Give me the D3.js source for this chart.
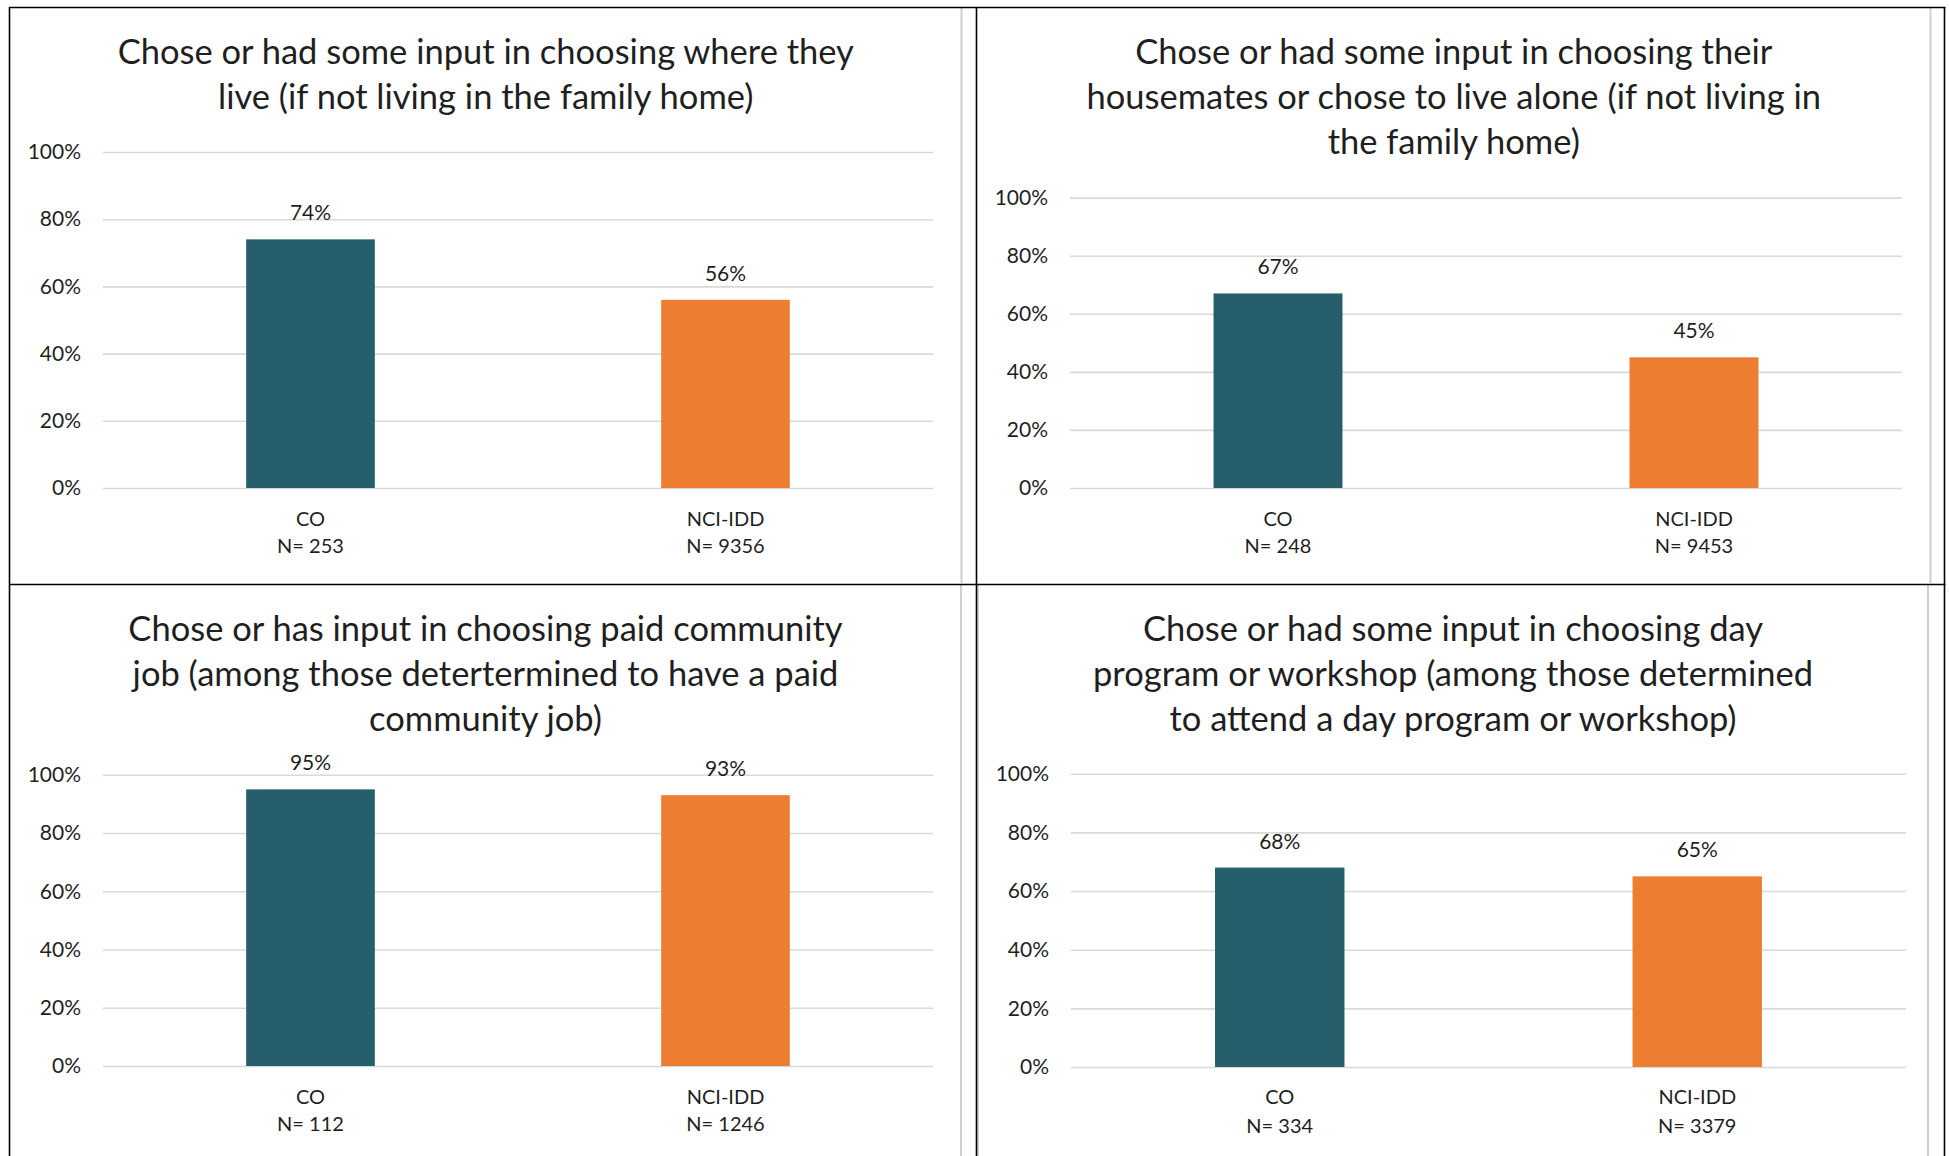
<!DOCTYPE html>
<html>
<head>
<meta charset="utf-8">
<script src="https://cdn.jsdelivr.net/npm/d3@7"></script>
<style>
  html, body { margin: 0; padding: 0; background: #ffffff; }
  svg { display: block; }
  text { font-family: Lato, "Open Sans", "Liberation Sans", sans-serif; }
</style>
</head>
<body>
<svg id="chart" width="1949" height="1156"></svg>
<script>
// ---------------- DATA ----------------
const titles = [
  ["Chose or had some input in choosing where they", "live (if not living in the family home)"],
  ["Chose or had some input in choosing their", "housemates or chose to live alone (if not living in", "the family home)"],
  ["Chose or has input in choosing paid community", "job (among those detertermined to have a paid", "community job)"],
  ["Chose or had some input in choosing day", "program or workshop (among those determined", "to attend a day program or workshop)"]
];
const categories = ["CO", "NCI-IDD"];
const sampleSizes = [
  ["N= 253", "N= 9356"],
  ["N= 248", "N= 9453"],
  ["N= 112", "N= 1246"],
  ["N= 334", "N= 3379"]
];
const values = [
  [74, 56],
  [67, 45],
  [95, 93],
  [68, 65]
];
const tickValues = [0, 20, 40, 60, 80, 100];
const barColors = ["#265E6B", "#ED7D31"];

// ---------------- LAYOUT ----------------
const layout = [
  {left: 10,  right: 961.5,  x0: 103,  x1: 933,  yTop: 152,   yBase: 488,  titleY: 64,  catY: 526,  nY: 553},
  {left: 977, right: 1930.5, x0: 1070, x1: 1902, yTop: 197.6, yBase: 488,  titleY: 64,  catY: 526,  nY: 553},
  {left: 10,  right: 961,    x0: 103,  x1: 933,  yTop: 774.8, yBase: 1066, titleY: 641, catY: 1104, nY: 1131},
  {left: 978, right: 1928,   x0: 1071, x1: 1906, yTop: 773.7, yBase: 1067, titleY: 641, catY: 1104, nY: 1133}
];

const svg = d3.select("#chart");
const textColor = "#1f1f1f";

layout.forEach((L, i) => {
  const g = svg.append("g");

  // chart area right border (light gray)
  g.append("line")
    .attr("x1", L.right).attr("x2", L.right)
    .attr("y1", i < 2 ? 8 : 585).attr("y2", i < 2 ? 583 : 1156)
    .attr("stroke", "#d0d0d0").attr("stroke-width", 2);
  if (i === 3) {
    g.append("line")
      .attr("x1", L.left).attr("x2", L.left)
      .attr("y1", 585).attr("y2", 1156)
      .attr("stroke", "#d0d0d0").attr("stroke-width", 2);
  }

  // title
  const cx = (L.left + L.right) / 2;
  const t = g.append("text")
    .attr("text-anchor", "middle")
    .attr("fill", textColor)
    .style("font-size", "34.5px");
  titles[i].forEach((line, k) => {
    t.append("tspan").attr("x", cx).attr("y", L.titleY + k * 45).text(line);
  });

  const x = d3.scaleBand().domain(categories).range([L.x0, L.x1])
    .paddingInner(0.69).paddingOuter(0.345);
  const y = d3.scaleLinear().domain([0, 100]).range([L.yBase, L.yTop]);

  // y axis with gridlines
  const yAxis = d3.axisLeft(y)
    .tickValues(tickValues)
    .tickSize(-(L.x1 - L.x0))
    .tickPadding(22)
    .tickFormat(d => d + "%");
  const ag = g.append("g").attr("transform", `translate(${L.x0},0)`).call(yAxis);
  ag.select(".domain").remove();
  ag.selectAll(".tick line").attr("stroke", "#d9d9d9").attr("stroke-width", 1.6);
  ag.selectAll(".tick text")
    .attr("fill", textColor)
    .style("font-size", "21px")
    .style("font-family", "Lato, 'Open Sans', sans-serif");

  // bars
  g.selectAll("rect.bar")
    .data(categories.map((c, j) => ({c, v: values[i][j], j})))
    .enter().append("rect")
    .attr("class", "bar")
    .attr("x", d => x(d.c))
    .attr("width", x.bandwidth())
    .attr("y", d => y(d.v))
    .attr("height", d => y(0) - y(d.v))
    .attr("fill", d => barColors[d.j]);

  // data labels
  g.selectAll("text.val")
    .data(categories.map((c, j) => ({c, v: values[i][j]})))
    .enter().append("text")
    .attr("class", "val")
    .attr("text-anchor", "middle")
    .attr("x", d => x(d.c) + x.bandwidth() / 2)
    .attr("y", d => y(d.v) - 19)
    .attr("fill", textColor)
    .style("font-size", "21px")
    .text(d => d.v + "%");

  // category labels (two lines)
  categories.forEach((c, j) => {
    const xc = x(c) + x.bandwidth() / 2;
    g.append("text").attr("text-anchor", "middle")
      .attr("x", xc).attr("y", L.catY)
      .attr("fill", textColor).style("font-size", "20px").text(c);
    g.append("text").attr("text-anchor", "middle")
      .attr("x", xc).attr("y", L.nY)
      .attr("fill", textColor).style("font-size", "20px").text(sampleSizes[i][j]);
  });
});

// table cell borders (black)
const border = svg.append("g").attr("stroke", "#000").attr("stroke-width", 1.6).attr("fill", "none");
border.append("line").attr("x1", 9).attr("x2", 1945.5).attr("y1", 7.5).attr("y2", 7.5);
border.append("line").attr("x1", 9).attr("x2", 1945.5).attr("y1", 584.5).attr("y2", 584.5);
border.append("line").attr("x1", 9.5).attr("x2", 9.5).attr("y1", 7).attr("y2", 1156);
border.append("line").attr("x1", 976.5).attr("x2", 976.5).attr("y1", 7).attr("y2", 1156);
border.append("line").attr("x1", 1944.5).attr("x2", 1944.5).attr("y1", 7).attr("y2", 1156);
</script>
</body>
</html>
